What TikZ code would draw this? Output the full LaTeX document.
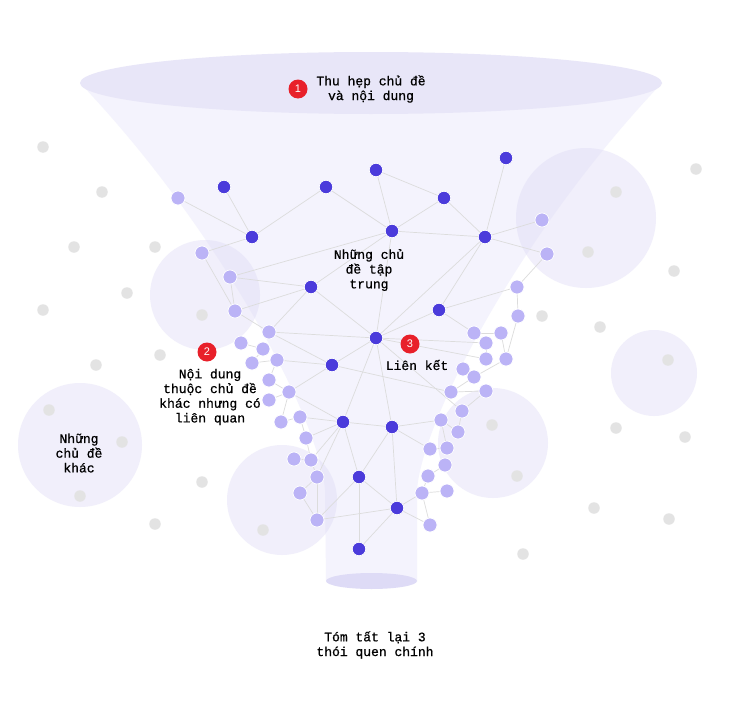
\documentclass[tikz,border=0pt]{standalone}
\usepackage{fontspec}
\newfontface\tw{Liberation Mono}[FakeBold=0.8]
\newfontfamily\bsans{Liberation Sans}
\pgfdeclarelayer{back}
\pgfdeclarelayer{edges}
\pgfsetlayers{back,edges,main}
\definecolor{funnelc}{HTML}{F4F3FD}
\definecolor{rimc}{HTML}{E8E6F8}
\definecolor{bottomc}{HTML}{DEDBF6}
\definecolor{blobc}{HTML}{DCD8F5}
\definecolor{grayc}{HTML}{E3E3E3}
\definecolor{darkc}{HTML}{4B3BDB}
\definecolor{lightc}{HTML}{BBB3F6}
\definecolor{edgec}{HTML}{DCDCDC}
\definecolor{redc}{HTML}{E8202A}
\tikzset{
  dk/.style={circle,fill=darkc,draw=white,line width=0.7pt,inner sep=0pt,minimum size=13.5pt},
  lt/.style={circle,fill=lightc,draw=white,line width=0.7pt,inner sep=0pt,minimum size=14pt},
  gdot/.style={circle,fill=grayc,inner sep=0pt,minimum size=11.5pt},
  blob/.style={fill=blobc,fill opacity=0.4},
  edge/.style={draw=edgec,line width=0.7pt},
  badge/.style={circle,fill=redc,text=white,inner sep=0pt,minimum size=19pt,font=\bsans\fontsize{11}{11}\selectfont},
  lbl/.style={align=center,inner sep=0pt,font=\tw\fontsize{13}{14.7}\selectfont}
}
\begin{document}
\begin{tikzpicture}[x=1pt,y=-1pt]
\useasboundingbox (0,0) rectangle (742,720);
\begin{pgfonlayer}{back}
\fill[white] (0,0) rectangle (742,720);
% funnel
\fill[funnelc] (80,83) .. controls (220,230) and (320,420) .. (325,490) -- (326,581)
  -- (417,581) -- (417,490) .. controls (422,420) and (522,230) .. (662,83) -- cycle;
\fill[bottomc] (371.5,581) ellipse [x radius=45.5, y radius=8];
\fill[rimc] (371,83) ellipse [x radius=291, y radius=31];
% blobs
\fill[blob] (205,295) circle [radius=55];
\fill[blob] (586,218) circle [radius=70];
\fill[blob] (654,373) circle [radius=43];
\fill[blob] (80,445) circle [radius=62];
\fill[blob] (282,500) circle [radius=55];
\fill[blob] (493,443) circle [radius=55];
% gray dots
\foreach \p [count=\i] in {(43,147),(102,192),(74,247),(155,247),(127,293),(43,310),(202,315),(160,355),(96,365),(49,410),(122,442),(80,496),(202,482),(155,524),(263,530),(696,169),(616,192),(588,252),(674,271),(542,316),(600,327),(668,360),(492,425),(616,428),(685,437),(517,476),(594,508),(669,519),(523,554)}
  \node[gdot] (g\i) at \p {};
\end{pgfonlayer}
% dark nodes
\node[dk] (d1) at (224,187) {};
\node[dk] (d2) at (326,187) {};
\node[dk] (d3) at (376,170) {};
\node[dk] (d4) at (506,158) {};
\node[dk] (d5) at (444,198) {};
\node[dk] (d6) at (252,237) {};
\node[dk] (d7) at (392,231) {};
\node[dk] (d8) at (485,237) {};
\node[dk] (d9) at (311,287) {};
\node[dk] (d10) at (439,310) {};
\node[dk] (d11) at (376,338) {};
\node[dk] (d12) at (332,365) {};
\node[dk] (d13) at (343,422) {};
\node[dk] (d14) at (392,427) {};
\node[dk] (d15) at (359,477) {};
\node[dk] (d16) at (397,508) {};
\node[dk] (d17) at (359,549) {};
% light nodes left
\node[lt] (a1) at (178,198) {};
\node[lt] (a2) at (202,253) {};
\node[lt] (a3) at (230,277) {};
\node[lt] (a4) at (235,311) {};
\node[lt] (a5) at (269,332) {};
\node[lt] (a6) at (241,343) {};
\node[lt] (a7) at (263,349) {};
\node[lt] (a8) at (252,363) {};
\node[lt] (a9) at (277,360) {};
\node[lt] (a10) at (269,380) {};
\node[lt] (a11) at (289,392) {};
\node[lt] (a12) at (269,400) {};
\node[lt] (a13) at (300,417) {};
\node[lt] (a14) at (281,422) {};
\node[lt] (a15) at (306,438) {};
\node[lt] (a16) at (294,459) {};
\node[lt] (a17) at (311,460) {};
\node[lt] (a18) at (317,477) {};
\node[lt] (a19) at (300,493) {};
\node[lt] (a20) at (317,520) {};
% light nodes right
\node[lt] (b1) at (542,220) {};
\node[lt] (b2) at (547,254) {};
\node[lt] (b3) at (517,287) {};
\node[lt] (b4) at (518,316) {};
\node[lt] (b5) at (474,333) {};
\node[lt] (b6) at (501,333) {};
\node[lt] (b7) at (486,343) {};
\node[lt] (b8) at (486,359) {};
\node[lt] (b9) at (506,359) {};
\node[lt] (b10) at (463,369) {};
\node[lt] (b11) at (474,377) {};
\node[lt] (b12) at (451,392) {};
\node[lt] (b13) at (486,391) {};
\node[lt] (b14) at (462,411) {};
\node[lt] (b15) at (441,420) {};
\node[lt] (b16) at (458,432) {};
\node[lt] (b17) at (430,449) {};
\node[lt] (b18) at (447,448) {};
\node[lt] (b19) at (445,465) {};
\node[lt] (b20) at (428,476) {};
\node[lt] (b21) at (422,493) {};
\node[lt] (b22) at (447,491) {};
\node[lt] (b23) at (430,525) {};
\begin{pgfonlayer}{edges}
\foreach \u/\v in {d1/d6,d2/d6,d2/d7,d3/d7,d3/d5,d5/d7,d7/d8,d5/d8,d4/d8,d8/b1,d8/b2,b2/b3,b3/d10,b3/b4,b4/b9,d8/d10,d8/d11,d7/d9,d7/d11,d9/d11,d10/d11,d11/d12,d11/d13,d11/d14,d13/d14,d13/d15,d14/d15,d14/d16,d15/d16,d15/d17,d16/d17,d14/b15,d14/b17,
  a1/d6,a2/d6,a2/a4,a3/a4,a3/d7,a3/d9,a4/d9,a4/a5,a5/d9,a5/d11,a5/d12,a6/a7,a7/a8,a8/a9,a9/d12,a9/a10,a10/a11,a11/d12,a11/d13,a12/a11,a11/a14,a14/a13,a13/d13,a13/a15,a15/d13,a16/a17,a15/a17,a17/d13,a18/d13,a17/a18,a18/a19,a18/a20,a19/a20,a20/d16,a20/d15,
  d10/b5,b5/b6,b6/b9,d11/b7,d11/b8,b7/b8,b9/b11,b10/b11,b11/b12,d12/b12,d11/b14,b12/b13,b13/b14,b14/b16,b15/b16,b15/b18,b17/b18,b19/b20,b20/b21,b21/b22,b21/b23,b21/d16,d16/b23}
  \draw[edge] (\u) -- (\v);
\end{pgfonlayer}
% badges and labels
\node[badge] (n1) at (298,89) {1};
\node[lbl] (t1) at (371,89) {Thu hẹp chủ đề\\và nội dung};
\node[badge] (n2) at (207,352) {2};
\node[lbl] (t2) at (210,397) {Nội dung\\thuộc chủ đề\\khác nhưng có\\liên quan};
\node[lbl] (t3) at (369,270) {Những chủ\\đề tập\\trung};
\node[badge] (n3) at (410,344) {3};
\node[lbl] (t4) at (417,365) {Liên kết};
\node[lbl] (t5) at (79,453) {Những\\chủ đề\\khác};
\node[lbl] (t6) at (375,645) {Tóm tất lại 3\\thói quen chính};
\end{tikzpicture}
\end{document}
